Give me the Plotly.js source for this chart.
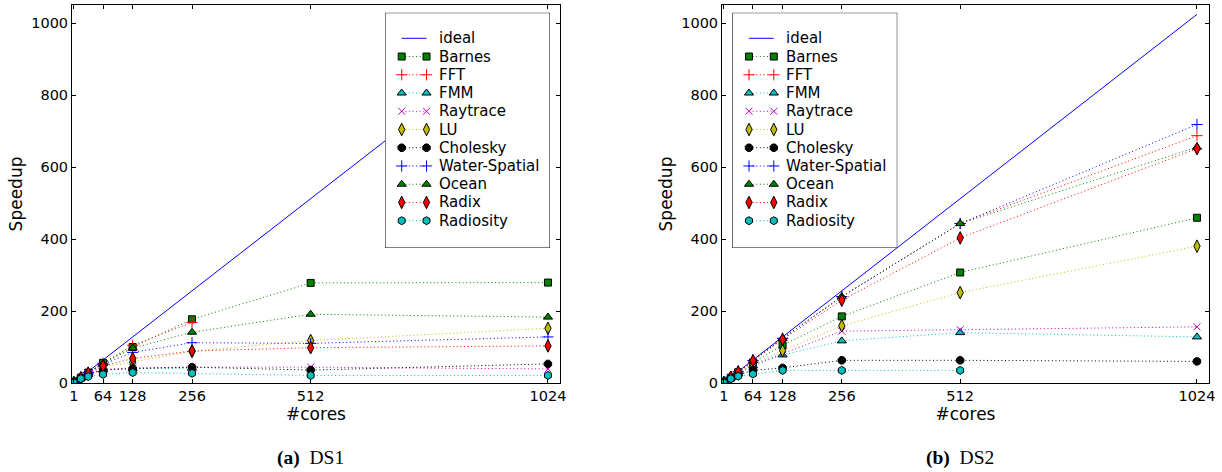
<!DOCTYPE html>
<html><head><meta charset="utf-8">
<script src="https://cdn.plot.ly/plotly-3.0.1.min.js"></script>
<style>html,body{margin:0;padding:0;background:#fff}</style>
</head><body><div id="chart" style="width:1222px;height:472px"></div>
<script>
// ---------------- data ----------------
const cores = [1, 16, 32, 64, 128, 256, 512, 1024];
const idealCores = [1, 1024];
const idealSpeedup = [1, 1024];
const coreTicks = [1, 64, 128, 256, 512, 1024];
const speedupTicks = [0, 200, 400, 600, 800, 1000];
const seriesNames = ["Barnes", "FFT", "FMM", "Raytrace", "LU", "Cholesky", "Water-Spatial", "Ocean", "Radix", "Radiosity"];
const panelLetters = ["(a)", "(b)"];
const panelNames = ["DS1", "DS2"];

// DS1 speedups (values per entry of cores; shorter = fewer core counts measured)
const ds1Barnes       = [1, 15, 29, 56, 100, 177, 278, 279];
const ds1FFT          = [1, 15, 30, 55, 105, 168];
const ds1FMM          = [1, 13, 24, 36, 40, 41];
const ds1Raytrace     = [1, 14, 25, 38, 42, 44, 44, 39];
const ds1LU           = [1, 14, 26, 44, 58, 88, 118, 152];
const ds1Cholesky     = [1, 13, 24, 36, 40, 44, 36, 53];
const ds1WaterSpatial = [1, 15, 29, 52, 85, 112, 110, 128];
const ds1Ocean        = [1, 15, 29, 54, 97, 141, 191, 183];
const ds1Radix        = [1, 14, 27, 47, 68, 89, 98, 103];
const ds1Radiosity    = [1, 12, 18, 24, 29, 27, 21, 21];

// DS2 speedups
const ds2Barnes       = [1, 15, 30, 57, 105, 185, 307, 459];
const ds2FFT          = [1, 16, 31, 62, 124, 240, 443, 687];
const ds2FMM          = [1, 14, 26, 48, 78, 117, 140, 128];
const ds2Raytrace     = [1, 14, 27, 50, 82, 144, 148, 156];
const ds2LU           = [1, 15, 28, 52, 90, 159, 251, 380];
const ds2Cholesky     = [1, 13, 22, 35, 42, 63, 63, 60];
const ds2WaterSpatial = [1, 16, 31, 62, 124, 240, 443, 718];
const ds2Ocean        = [1, 16, 31, 62, 124, 240, 443, 655];
const ds2Radix        = [1, 16, 31, 62, 121, 230, 403, 651];
const ds2Radiosity    = [1, 12, 19, 25, 35, 35, 35];

const ds1 = [ds1Barnes, ds1FFT, ds1FMM, ds1Raytrace, ds1LU, ds1Cholesky, ds1WaterSpatial, ds1Ocean, ds1Radix, ds1Radiosity];
const ds2 = [ds2Barnes, ds2FFT, ds2FMM, ds2Raytrace, ds2LU, ds2Cholesky, ds2WaterSpatial, ds2Ocean, ds2Radix, ds2Radiosity];

// ---------------- styles ----------------
const G = '#008000', R = '#ff0000', C = '#00bfbf', M = '#bf00bf', Y = '#bfbf00', K = '#000000', B = '#0000ff';
const styles = [
  {color: G, symbol: 'square', size: 7, filled: true},
  {color: R, symbol: 'cross-thin', size: 8, filled: false},
  {color: C, symbol: 'triangle-up', size: 8, filled: true},
  {color: M, symbol: 'x-thin', size: 7, filled: false},
  {color: Y, symbol: 'diamond-tall', size: 9, filled: true},
  {color: K, symbol: 'octagon', size: 8, filled: true},
  {color: B, symbol: 'cross-thin', size: 8, filled: false},
  {color: G, symbol: 'triangle-up', size: 8, filled: true},
  {color: R, symbol: 'diamond-tall', size: 9, filled: true},
  {color: C, symbol: 'hexagon', size: 8, filled: true}
];
const DASH = '1px,2.6px';
function markerOf(s) {
  return s.filled
    ? {symbol: s.symbol, size: s.size, color: s.color, line: {color: '#000', width: 1}}
    : {symbol: s.symbol, size: s.size, color: s.color, line: {color: s.color, width: 1}};
}

const W = 1222, H = 472;
const FONT = 'DejaVu Sans, sans-serif';
const traces = [];
const panels = [
  {data: ds1, xa: 'x', ya: 'y', lx: 'x3', ly: 'y3'},
  {data: ds2, xa: 'x2', ya: 'y2', lx: 'x4', ly: 'y4'}
];

// legend geometry (pixels inside the legend box)
const LEG_W = 165, LEG_H = 235.3, ROW0 = 25.6, ROWSTEP = 18.24, SW0 = 16.7, SW1 = 41.5, TXT = 52;
const annotations = [];
const shapes = [];

panels.forEach((p, pi) => {
  traces.push({x: idealCores, y: idealSpeedup, xaxis: p.xa, yaxis: p.ya, mode: 'lines',
    line: {color: B, width: 1}, name: 'ideal', showlegend: false, hoverinfo: 'skip'});
  p.data.forEach((vals, i) => {
    const s = styles[i];
    traces.push({x: cores.slice(0, vals.length), y: vals, xaxis: p.xa, yaxis: p.ya,
      mode: 'lines+markers', name: seriesNames[i], showlegend: false,
      line: {color: s.color, width: 1, dash: DASH}, marker: markerOf(s)});
  });
  // legend box
  shapes.push({type: 'rect', xref: p.lx, yref: p.ly, x0: 0, x1: LEG_W, y0: 0, y1: LEG_H,
    layer: 'below', fillcolor: '#fff', line: {color: '#000', width: 1}});
  const labels = ['ideal'].concat(seriesNames);
  labels.forEach((lab, r) => {
    const yy = ROW0 + ROWSTEP * r;
    if (r === 0) {
      traces.push({x: [SW0, SW1], y: [yy, yy], xaxis: p.lx, yaxis: p.ly, mode: 'lines',
        line: {color: B, width: 1}, showlegend: false, hoverinfo: 'skip'});
    } else {
      const s = styles[r - 1];
      traces.push({x: [SW0, SW1], y: [yy, yy], xaxis: p.lx, yaxis: p.ly, mode: 'lines+markers',
        line: {color: s.color, width: 1, dash: DASH}, marker: markerOf(s), showlegend: false, hoverinfo: 'skip'});
    }
    annotations.push({xref: p.lx, yref: p.ly, x: TXT, y: yy, xanchor: 'left', yanchor: 'middle',
      text: lab, showarrow: false, font: {family: FONT, size: 15, color: '#000'}});
  });
});

// captions
const capX = [310, 960];
capX.forEach((cx, i) => {
  annotations.push({xref: 'paper', yref: 'paper', x: cx / W, y: (H - 458) / H, xanchor: 'center', yanchor: 'middle',
    text: '<b>' + panelLetters[i] + '</b>  ' + panelNames[i], showarrow: false,
    font: {family: 'Liberation Serif, Times New Roman, serif', size: 19.5, color: '#000'}});
});

function xAxis(d0, d1, anchor) {
  return {domain: [d0 / W, d1 / W], range: [-3, 1050], anchor: anchor, tickmode: 'array', tickvals: coreTicks,
    ticktext: coreTicks.map(String), ticks: 'inside', ticklen: 4, tickcolor: '#000', showline: true,
    linecolor: '#000', linewidth: 1, mirror: 'ticks', showgrid: false, zeroline: false,
    tickfont: {family: FONT, size: 14.5, color: '#000'},
    title: {text: '#cores', font: {family: FONT, size: 17, color: '#000'}, standoff: 2}};
}
function yAxis(anchor) {
  return {domain: [(H - 383) / H, (H - 5) / H], range: [0, 1050], anchor: anchor, tickmode: 'array',
    tickvals: speedupTicks, ticks: 'inside', ticklen: 4, tickcolor: '#000', showline: true,
    linecolor: '#000', linewidth: 1, mirror: 'ticks', showgrid: false, zeroline: false,
    tickfont: {family: FONT, size: 14.5, color: '#000'},
    title: {text: 'Speedup', font: {family: FONT, size: 17, color: '#000'}, standoff: 4}};
}
function legAxes(left) {
  return [
    {domain: [left / W, (left + LEG_W) / W], range: [0, LEG_W], visible: false, fixedrange: true},
    {domain: [(H - 248) / H, (H - 12.7) / H], range: [LEG_H, 0], visible: false, fixedrange: true}
  ];
}
const l3 = legAxes(385), l4 = legAxes(732.3);
l3[0].anchor = 'y3'; l3[1].anchor = 'x3'; l4[0].anchor = 'y4'; l4[1].anchor = 'x4';

const layout = {
  width: W, height: H, margin: {l: 0, r: 0, t: 0, b: 0}, paper_bgcolor: '#fff', plot_bgcolor: 'rgba(0,0,0,0)',
  showlegend: false, font: {family: FONT, color: '#000'},
  xaxis: xAxis(72, 560, 'y'), yaxis: yAxis('x'),
  xaxis2: xAxis(722, 1209, 'y2'), yaxis2: yAxis('x2'),
  xaxis3: l3[0], yaxis3: l3[1], xaxis4: l4[0], yaxis4: l4[1],
  shapes: shapes, annotations: annotations
};
Plotly.newPlot('chart', traces, layout, {displayModeBar: false, staticPlot: true});
</script></body></html>
